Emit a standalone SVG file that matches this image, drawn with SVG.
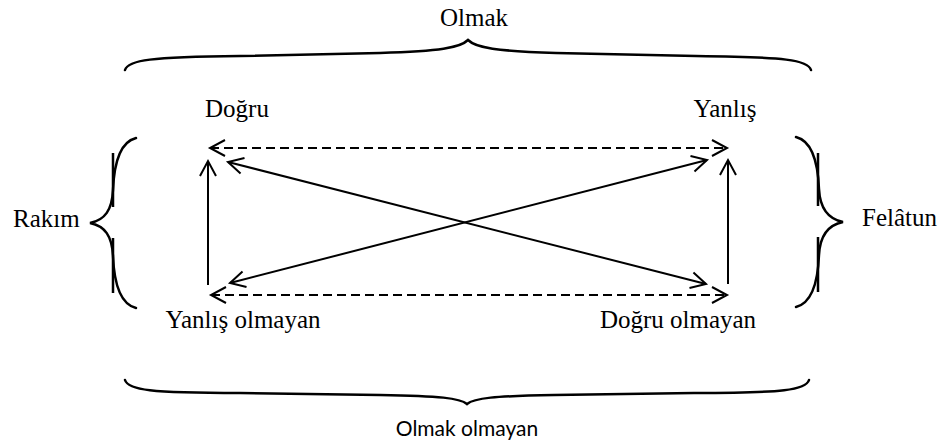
<svg xmlns="http://www.w3.org/2000/svg" width="943" height="443" viewBox="0 0 943 443">
<style>
.serif{font-family:"Liberation Serif","Times New Roman",serif;font-size:25px;fill:#000}
.sans{font-family:Lato,"Liberation Sans",sans-serif;font-size:21px;fill:#000}
.brace{fill:none;stroke:#000;stroke-width:2.5;stroke-linecap:round}
.bar{fill:none;stroke:#000;stroke-width:2.5}
.arr{fill:none;stroke:#000;stroke-width:2}
.dash{stroke-dasharray:9 5}
</style>
<defs>
<marker id="ah" markerUnits="userSpaceOnUse" markerWidth="20" markerHeight="20" viewBox="-16 -10 20 20" refX="0" refY="0" orient="auto-start-reverse" overflow="visible">
<path d="M-15,-8 L0,0 L-15,8" fill="none" stroke="#000" stroke-width="2"/>
</marker>
</defs>
<rect width="943" height="443" fill="#fff"/>
<g id="olmak">
<text class="serif" x="474" y="26" text-anchor="middle">Olmak</text>
<path class="brace" d="M125,70 C128,60 150,57 240,56 L380,53 C440,51 460,48 468,40 C476,48 496,51 556,53 L696,56 C786,57 808,60 811,70"/>
</g>
<g id="olmak-olmayan">
<path class="brace" d="M125,380 C128,390 150,393 240,393 L380,395 C440,396 460,398 467,404 C474,398 494,396 554,395 L694,393 C784,393 806,390 809,380"/>
<text class="sans" x="467" y="436" text-anchor="middle">Olmak olmayan</text>
</g>
<g id="rakim">
<text class="serif" x="13" y="227">Rakım</text>
<path class="brace" d="M136,138 C120,142 114,165 113,190 C112,210 105,220 90,223 C105,226 112,236 113,256 C114,281 120,304 136,308"/>
<path class="bar" d="M113,153 V207 M113,238 V293"/>
</g>
<g id="felatun">
<text class="serif" x="862" y="226">Felâtun</text>
<path class="brace" d="M796,137 C812,141 818,164 819,189 C820,209 828,219 843,222 C828,225 820,235 819,255 C818,280 812,303 796,307"/>
<path class="bar" d="M818,153 V206 M818,237 V292"/>
</g>
<g id="dogru">
<text class="serif" x="237" y="117" text-anchor="middle">Doğru</text>
</g>
<g id="yanlis">
<text class="serif" x="725" y="117" text-anchor="middle">Yanlış</text>
</g>
<g id="yanlis-olmayan">
<text class="serif" x="243" y="328" text-anchor="middle">Yanlış olmayan</text>
</g>
<g id="dogru-olmayan">
<text class="serif" x="678" y="328" text-anchor="middle">Doğru olmayan</text>
</g>
<g id="connectors">
<line class="arr dash" x1="210" y1="148" x2="727" y2="148" marker-start="url(#ah)" marker-end="url(#ah)"/>
<line class="arr dash" x1="211" y1="295" x2="727" y2="295" marker-start="url(#ah)" marker-end="url(#ah)"/>
<line class="arr" x1="228" y1="162" x2="706" y2="284" marker-start="url(#ah)" marker-end="url(#ah)"/>
<line class="arr" x1="230" y1="283" x2="707" y2="160" marker-start="url(#ah)" marker-end="url(#ah)"/>
<line class="arr" x1="208" y1="285" x2="208" y2="161" marker-end="url(#ah)"/>
<line class="arr" x1="728" y1="284" x2="728" y2="160" marker-end="url(#ah)"/>
</g>
</svg>
